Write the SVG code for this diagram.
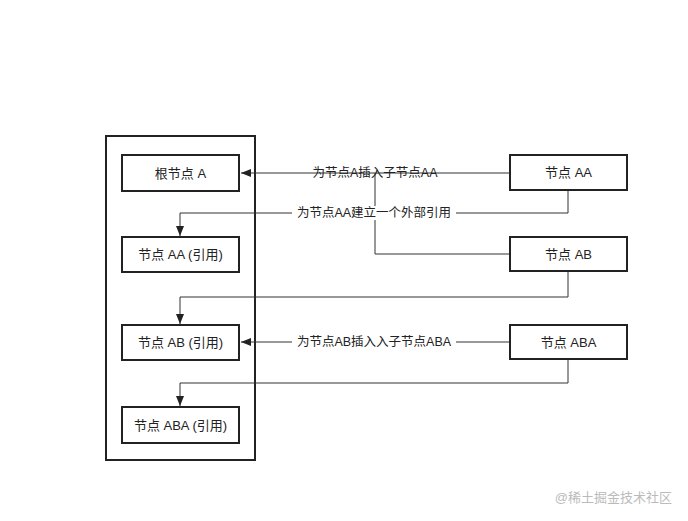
<svg xmlns="http://www.w3.org/2000/svg" width="688" height="521" viewBox="0 0 688 521">
<style>
.box{fill:#fff;stroke:#222;stroke-width:2}
.t{font-family:"Liberation Sans","Noto Sans CJK SC",sans-serif;font-size:13px;fill:#222;text-anchor:middle;dominant-baseline:central}
.c{fill:none;stroke:#333;stroke-width:1}
.lbl{font-family:"Liberation Sans","Noto Sans CJK SC",sans-serif;font-size:12.5px;fill:#222;text-anchor:middle;dominant-baseline:central}
</style>
<defs><marker id="ar" viewBox="0 0 10 10" refX="10" refY="5" markerWidth="10" markerHeight="10" markerUnits="userSpaceOnUse" orient="auto"><path d="M0,1 L10,5 L0,9 Z" fill="#222"/></marker></defs>
<rect width="688" height="521" fill="#fff"/>
<g id="container"><rect x="106" y="136" width="149" height="324" fill="none" stroke="#222" stroke-width="2"/></g>
<g id="connectors">
<path class="c" d="M510,173 H241" marker-end="url(#ar)"/>
<path class="c" d="M510,254 H375 V173"/>
<path class="c" d="M568,190 V213 H180 V236" marker-end="url(#ar)"/>
<path class="c" d="M568,271 V297 H180 V324" marker-end="url(#ar)"/>
<path class="c" d="M510,342 H241" marker-end="url(#ar)"/>
<path class="c" d="M568,359 V383 H180 V406" marker-end="url(#ar)"/>
<text class="lbl" x="375" y="173">为节点A插入子节点AA</text>
<rect x="292" y="206" width="164" height="14" fill="#fff"/>
<text class="lbl" x="374" y="213">为节点AA建立一个外部引用</text>
<rect x="292" y="335" width="164" height="14" fill="#fff"/>
<text class="lbl" x="374" y="342">为节点AB插入入子节点ABA</text>
</g>
<g id="root"><rect class="box" x="122" y="155" width="117" height="36"/><text class="t" x="180.5" y="173">根节点 A</text></g>
<g id="refAA"><rect class="box" x="122" y="237" width="117" height="35"/><text class="t" x="180.5" y="254.5">节点 AA (引用)</text></g>
<g id="refAB"><rect class="box" x="122" y="325" width="117" height="35"/><text class="t" x="180.5" y="342.5">节点 AB (引用)</text></g>
<g id="refABA"><rect class="box" x="122" y="407" width="117" height="36"/><text class="t" x="180.5" y="425">节点 ABA (引用)</text></g>
<g id="AA"><rect class="box" x="510" y="155" width="117" height="35"/><text class="t" x="568.5" y="172.5">节点 AA</text></g>
<g id="AB"><rect class="box" x="510" y="237" width="117" height="34"/><text class="t" x="568.5" y="254">节点 AB</text></g>
<g id="ABA"><rect class="box" x="510" y="325" width="117" height="34"/><text class="t" x="568.5" y="342">节点 ABA</text></g>
<text x="672" y="497" font-family="Liberation Sans,Noto Sans CJK SC,sans-serif" font-size="13" fill="#bbb" text-anchor="end" dominant-baseline="central">@稀土掘金技术社区</text>
</svg>
